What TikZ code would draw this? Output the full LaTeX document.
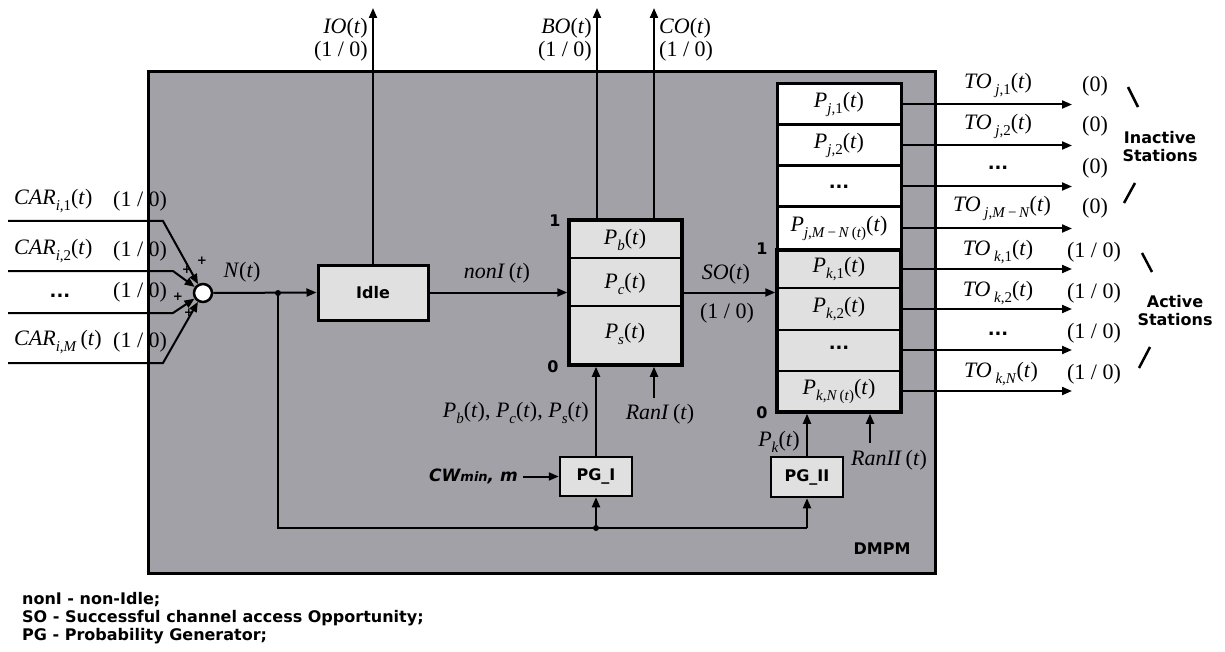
\documentclass[tikz,border=0pt]{standalone}
\usepackage{fontspec}
\setmainfont{Liberation Serif}
\newfontfamily\vfont{DejaVu Sans}
\usetikzlibrary{arrows.meta}
\definecolor{dmgray}{RGB}{162,161,167}
\definecolor{lgray}{RGB}{224,224,224}
\newcommand\sbs[1]{\raisebox{-6pt}{\fontsize{15}{15}\selectfont #1}}
\newcommand\iv[1]{\textit{#1}}
\newcommand\tpar{(\textit{t})}
\begin{document}
\begin{tikzpicture}[x=1pt,y=-1pt,
  ml/.style={font=\fontsize{22}{24}\selectfont, inner sep=0pt},
  bl/.style={font=\vfont\bfseries\fontsize{16}{18}\selectfont, inner sep=0pt},
  dl/.style={font=\vfont\bfseries\fontsize{18}{18}\selectfont, inner sep=0pt},
  pl/.style={font=\vfont\bfseries\fontsize{12}{12}\selectfont, inner sep=0pt},
  arr/.style={line width=2pt, -{Triangle[length=10pt,width=8pt]}},
  ln/.style={line width=2pt},
  blk/.style={draw, line width=3pt, fill=lgray, inner sep=0pt, font=\vfont\bfseries\fontsize{16}{18}\selectfont},
  wcell/.style={draw, line width=3pt, fill=white, inner sep=0pt, minimum width=124pt, font=\fontsize{22}{24}\selectfont},
  slash/.style={line width=2.5pt}]
\useasboundingbox (0,0) rectangle (1225,652);
% main block
\node[draw, line width=3pt, fill=dmgray, minimum width=787pt, minimum height=502pt, anchor=north west, inner sep=0pt] (dmpm) at (147,70) {};
\node[bl] (dmlab) at (882,549) {DMPM};
% summer
\node[circle, draw, line width=2.5pt, fill=white, minimum size=18pt, inner sep=0pt] (sum) at (203,293) {};
% idle
\node[blk, minimum width=110pt, minimum height=55pt] (idle) at (373,292.5) {Idle};
% middle box
\node[blk, line width=3.5pt, minimum width=113pt, minimum height=145pt] (mid) at (625.5,292.5) {};
\draw[ln] (569,258) -- (682,258);
\draw[ln] (569,306) -- (682,306);
\node[ml] (pb) at (625,240) {\iv{P}\sbs{\iv{b}}\tpar};
\node[ml] (pc) at (625,284) {\iv{P}\sbs{\iv{c}}\tpar};
\node[ml] (ps) at (625,334) {\iv{P}\sbs{\iv{s}}\tpar};
\node[bl] (m1) at (555,221) {1};
\node[bl] (m0) at (553,367) {0};
% stack
\node[draw, line width=3.5pt, fill=lgray, minimum width=124pt, minimum height=162pt, inner sep=0pt] (pk) at (839,331) {};
\draw[ln] (777,288) -- (901,288);
\draw[ln] (777,330) -- (901,330);
\draw[ln] (777,371) -- (901,371);
\node[ml] (pk1) at (839,269) {\iv{P}\sbs{\iv{k},1}\tpar};
\node[ml] (pk2) at (839,309) {\iv{P}\sbs{\iv{k},2}\tpar};
\node[dl] (pkd) at (839,348) {...};
\node[ml] (pkn) at (839,391) {\iv{P}\sbs{\iv{k},\iv{N}\,(\iv{t})}\tpar};
\node[wcell, minimum height=41pt] (pj1) at (839,104.5) {\iv{P}\sbs{\iv{j},1}\tpar};
\node[wcell, minimum height=41pt] (pj2) at (839,145.5) {\iv{P}\sbs{\iv{j},2}\tpar};
\node[wcell, minimum height=41pt, font=\vfont\bfseries\fontsize{18}{18}\selectfont] (pjd) at (839,186.5) {...};
\node[wcell, minimum height=43pt] (pjm) at (839,228.5) {\iv{P}\sbs{\iv{j},\iv{M}\,−\,\iv{N}\,(\iv{t})}\tpar};
\node[bl] (s1) at (762,249) {1};
\node[bl] (s0) at (762,413) {0};
% PG boxes
\node[blk, line width=2.5pt, minimum width=72pt, minimum height=39pt] (pg1) at (596,476.5) {PG\_I};
\node[blk, line width=2.5pt, minimum width=72pt, minimum height=40pt] (pg2) at (807,477) {PG\_II};
% inputs
\coordinate (c1s) at (8,221); \coordinate (c1b) at (163,221);
\coordinate (c2s) at (8,271); \coordinate (c2b) at (173,271);
\coordinate (c3s) at (8,313); \coordinate (c3b) at (173,313);
\coordinate (c4s) at (8,363); \coordinate (c4b) at (163,363);
\draw[arr] (c1s) -- (c1b) -- (sum);
\draw[arr] (c2s) -- (c2b) -- (sum);
\draw[arr] (c3s) -- (c3b) -- (sum);
\draw[arr] (c4s) -- (c4b) -- (sum);
\node[ml, anchor=west] (car1) at (14,201) {\iv{CAR}\sbs{\iv{i},1}\tpar};
\node[ml, anchor=west] (v1) at (113,201) {(1 / 0)};
\node[ml, anchor=west] (car2) at (14,251) {\iv{CAR}\sbs{\iv{i},2}\tpar};
\node[ml, anchor=west] (v2) at (113,251) {(1 / 0)};
\node[dl] (card) at (60,296) {...};
\node[ml, anchor=west] (v3) at (113,292) {(1 / 0)};
\node[ml, anchor=west] (car4) at (14,342) {\iv{CAR}\sbs{\iv{i},\iv{M}}\,\tpar};
\node[ml, anchor=west] (v4) at (113,342) {(1 / 0)};
\node[pl] (p1) at (202,261) {+};
\node[pl] (p2) at (187,270) {+};
\node[pl] (p3) at (178,297) {+};
\node[pl] (p4) at (189,313) {+};
\node[ml] (nt) at (242,272) {\iv{N}\tpar};
% main flow
\draw[arr] (sum.east) -- (idle.west);
\coordinate (j1) at (278,293);
\fill (j1) circle (3pt);
\draw[arr] (idle.east) -- (mid.west);
\node[ml] (nonl) at (497,273) {\iv{nonI}\,\tpar};
\draw[arr] (mid.east) -- (pk.west |- mid.east);
\node[ml] (sol) at (726,274) {\iv{SO}\tpar};
\node[ml] (sov) at (727,313) {(1 / 0)};
% top outputs
\coordinate (io) at (373,8);
\coordinate (bo) at (597,8);
\coordinate (co) at (654,8);
\draw[arr] (idle.north) -- (io);
\draw[arr] (mid.north -| bo) -- (bo);
\draw[arr] (mid.north -| co) -- (co);
\node[ml, anchor=east] (iol) at (368,28) {\iv{IO}\tpar};
\node[ml, anchor=east] (iov) at (368,51) {(1 / 0)};
\node[ml, anchor=east] (bol) at (592,28) {\iv{BO}\tpar};
\node[ml, anchor=east] (bov) at (592,51) {(1 / 0)};
\node[ml, anchor=west] (col) at (659,28) {\iv{CO}\tpar};
\node[ml, anchor=west] (cov) at (659,51) {(1 / 0)};
% bottom feeds
\coordinate (bl) at (278,528);
\coordinate (j2) at (596,528);
\coordinate (br) at (807,528);
\draw[ln] (j1) -- (bl) -- (br);
\fill (j2) circle (3pt);
\draw[arr] (j2) -- (pg1.south);
\draw[arr] (br) -- (pg2.south);
\draw[arr] (pg1.north) -- (pg1.north |- mid.south);
\draw[arr] (pg2.north) -- (pg2.north |- pk.south);
\coordinate (r1) at (654,398);
\coordinate (r2) at (870,443);
\draw[arr] (r1) -- (r1 |- mid.south);
\draw[arr] (r2) -- (r2 |- pk.south);
\node[ml] (ran1) at (660,414) {\iv{RanI}\,\tpar};
\node[ml] (ran2) at (889,460) {\iv{RanII}\,\tpar};
\node[ml, anchor=east] (pbcs) at (589,413) {\iv{P}\sbs{\iv{b}}\tpar, \iv{P}\sbs{\iv{c}}\tpar, \iv{P}\sbs{\iv{s}}\tpar};
\node[ml, anchor=east] (pkt) at (800,442) {\iv{P}\sbs{\iv{k}}\tpar};
\coordinate (cw) at (523,476.5);
\draw[arr] (cw) -- (pg1.west);
\node[anchor=east, inner sep=0pt, font=\vfont\bfseries\itshape\fontsize{17}{18}\selectfont] (cwl) at (518,476) {CW{\fontsize{13}{13}\selectfont min}, m};
% right outputs
\coordinate (oj1) at (1072,104.5);
\coordinate (oj2) at (1072,145.5);
\coordinate (ojd) at (1072,186.5);
\coordinate (ojm) at (1072,228.5);
\coordinate (ok1) at (1072,269);
\coordinate (ok2) at (1072,309);
\coordinate (okd) at (1072,350);
\coordinate (okn) at (1072,391);
\draw[arr] (pj1.east) -- (oj1);
\draw[arr] (pj2.east) -- (oj2);
\draw[arr] (pjd.east) -- (ojd);
\draw[arr] (pjm.east) -- (ojm);
\draw[arr] (pk.east |- pk1) -- (ok1);
\draw[arr] (pk.east |- pk2) -- (ok2);
\draw[arr] (pk.east |- okd) -- (okd);
\draw[arr] (pk.east |- pkn) -- (okn);
\node[ml] (toj1) at (998,85) {\iv{TO}\,\sbs{\iv{j},1}\tpar};
\node[ml] (toj2) at (998,126) {\iv{TO}\,\sbs{\iv{j},2}\tpar};
\node[dl] (tojd) at (998,168) {...};
\node[ml] (tojm) at (1002,208) {\iv{TO}\,\sbs{\iv{j},\iv{M}\,−\,\iv{N}}\tpar};
\node[ml] (zj1) at (1095,86) {(0)};
\node[ml] (zj2) at (1095,126) {(0)};
\node[ml] (zjd) at (1095,168) {(0)};
\node[ml] (zjm) at (1095,208) {(0)};
\node[ml] (tok1) at (998,252) {\iv{TO}\,\sbs{\iv{k},1}\tpar};
\node[ml] (tok2) at (998,293) {\iv{TO}\,\sbs{\iv{k},2}\tpar};
\node[dl] (tokd) at (998,334) {...};
\node[ml] (tokn) at (1001,374) {\iv{TO}\,\sbs{\iv{k},\iv{N}}\tpar};
\node[ml] (zk1) at (1094,252) {(1 / 0)};
\node[ml] (zk2) at (1094,293) {(1 / 0)};
\node[ml] (zkd) at (1094,333) {(1 / 0)};
\node[ml] (zkn) at (1094,374) {(1 / 0)};
\draw[slash] (1128,87) -- (1138,107);
\draw[slash] (1135,183) -- (1124,203);
\draw[slash] (1142,253) -- (1152,272);
\draw[slash] (1150,347) -- (1139,368);
\node[bl, align=center] (inact) at (1160,147) {Inactive\\Stations};
\node[bl, align=center] (act) at (1175,311) {Active\\Stations};
% legend
\node[bl, anchor=west] (lg1) at (22,600) {nonI - non-Idle;};
\node[bl, anchor=west] (lg2) at (22,618) {SO - Successful channel access Opportunity;};
\node[bl, anchor=west] (lg3) at (22,636) {PG - Probability Generator;};
\end{tikzpicture}
\end{document}
